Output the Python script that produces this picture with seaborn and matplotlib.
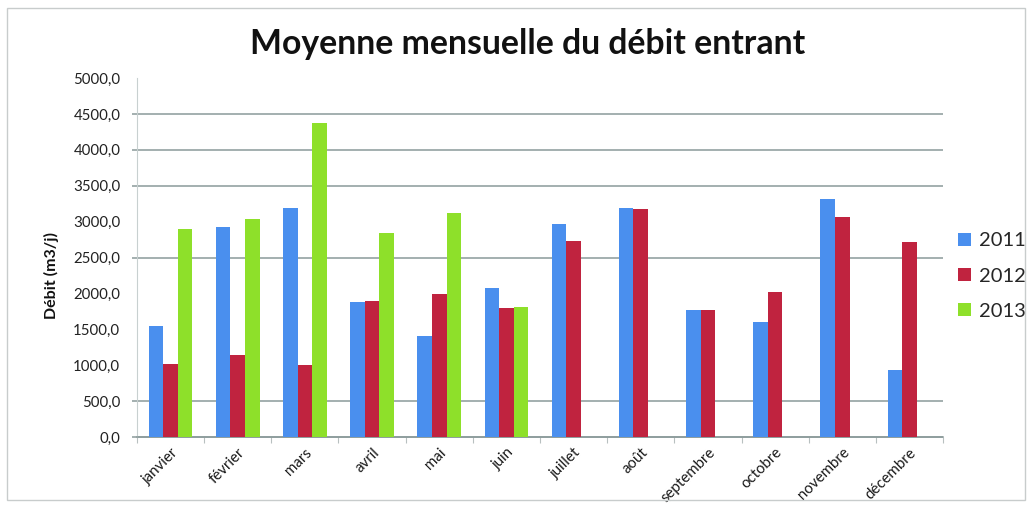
import matplotlib
matplotlib.use("Agg")
import matplotlib.pyplot as plt
from matplotlib.patches import Rectangle
from matplotlib.ticker import FuncFormatter, FixedLocator
import seaborn as sns
import pandas as pd

# Monthly averages of the inflow, by year
mois = ["janvier", "février", "mars", "avril", "mai", "juin", "juillet",
        "août", "septembre", "octobre", "novembre", "décembre"]
debit_2011 = [1550, 2930, 3195, 1875, 1410, 2070, 2965, 3195, 1765, 1595, 3320, 930]
debit_2012 = [1020, 1140, 1000, 1895, 1985, 1790, 2735, 3180, 1765, 2015, 3070, 2710]
debit_2013 = [2895, 3040, 4375, 2840, 3120, 1805]  # janvier to juin only
annees = ["2011", "2012", "2013"]
couleurs = ["#4A8FEE", "#C0233F", "#8EE02A"]
grille = [0, 500, 2500, 3500, 4000, 4500]

rows = []
for annee, serie in zip(annees, [debit_2011, debit_2012, debit_2013]):
    for m, v in zip(mois, serie):
        rows.append({"mois": m, "annee": annee, "debit": v})
df = pd.DataFrame(rows)

sns.set_theme(style="white")
plt.rcParams["font.family"] = ["Lato", "DejaVu Sans"]

fig = plt.figure(figsize=(10.35, 5.08), dpi=100)
ax = fig.add_axes([137 / 1035, 1 - 437 / 508, (943 - 137) / 1035, (437 - 78) / 508])

sns.barplot(data=df, x="mois", y="debit", hue="annee", order=mois,
            hue_order=annees, palette=couleurs, width=0.65, saturation=1,
            errorbar=None, linewidth=0, ax=ax, zorder=3)

ax.set_ylim(0, 5000)
ax.set_xlim(-0.5, len(mois) - 0.5)

# horizontal reference lines, extending slightly left of the axis
ax.hlines(grille, -0.58, len(mois) - 0.5, colors="#8A9A9A", linewidth=1.1,
          clip_on=False, zorder=1)

ax.yaxis.set_major_locator(FixedLocator(range(0, 5001, 500)))
ax.yaxis.set_major_formatter(FuncFormatter(lambda v, p: f"{v:.1f}".replace(".", ",")))
ax.tick_params(axis="y", length=0, labelsize=10.8, pad=12, colors="#222222")

ax.set_xticks(range(len(mois)))
ax.set_xticklabels(mois, rotation=45, ha="right", rotation_mode="anchor",
                   fontsize=10.8, color="#1A1A1A")
ax.tick_params(axis="x", length=0, pad=6)
ax.set_xticks([i + 0.5 for i in range(-1, len(mois))], minor=True)
ax.tick_params(axis="x", which="minor", length=4, color="#B8C0C0", width=0.8,
               direction="out", bottom=True)

for side in ["top", "right"]:
    ax.spines[side].set_visible(False)
ax.spines["left"].set_color("#C8D0D0")
ax.spines["left"].set_linewidth(0.8)
ax.spines["bottom"].set_color("#8A9A9A")
ax.spines["bottom"].set_linewidth(1.1)

ax.set_xlabel("")
ax.set_ylabel("Débit (m3/j)", fontsize=11.5, fontweight="bold", color="#111111")
ax.yaxis.set_label_coords(-0.097, 0.45)

fig.suptitle("Moyenne mensuelle du débit entrant", x=0.51, y=0.945,
             fontsize=24.3, fontweight="bold", color="#111111")

handles, labels = ax.get_legend_handles_labels()
ax.legend(handles, labels, loc="center left", bbox_to_anchor=(952 / 1035, 1 - 276 / 508),
          bbox_transform=fig.transFigure, frameon=False, fontsize=14.5,
          handlelength=0.65, handleheight=0.65, handletextpad=0.4,
          labelspacing=0.9, borderaxespad=0, borderpad=0.3)

# thin frame around the whole figure
fig.patches.append(Rectangle((7 / 1035, 8 / 508), 1018 / 1035, 492 / 508,
                             transform=fig.transFigure, fill=False,
                             edgecolor="#C8CCCC", linewidth=1))

fig.savefig("out.png", dpi=100)
